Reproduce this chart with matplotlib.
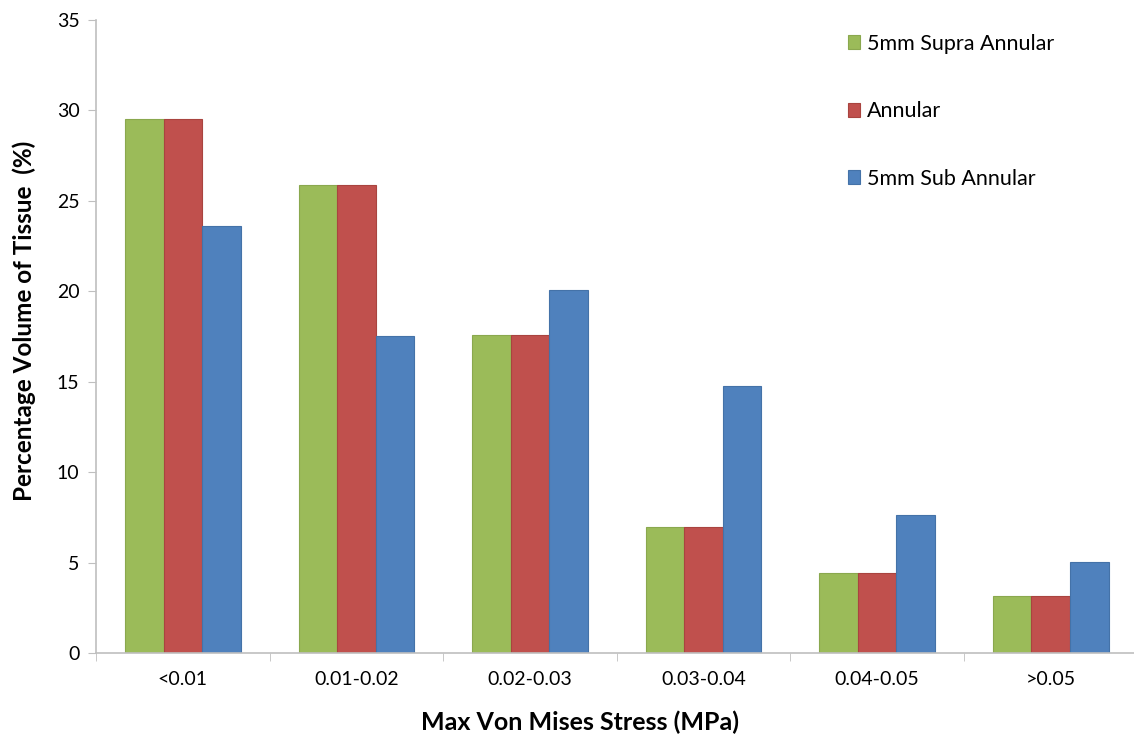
import numpy as np
import matplotlib.pyplot as plt
from matplotlib.ticker import FixedLocator

categories = ["<0.01", "0.01-0.02", "0.02-0.03", "0.03-0.04", "0.04-0.05", ">0.05"]
supra = [29.5, 25.9, 17.6, 6.95, 4.42, 3.15]
annular = [29.5, 25.9, 17.6, 6.95, 4.42, 3.15]
sub = [23.6, 17.5, 20.05, 14.75, 7.65, 5.05]

series_names = ["5mm Supra Annular", "Annular", "5mm Sub Annular"]
colors = ["#9BBB59", "#C0504D", "#4F81BD"]
edges = ["#8AA84E", "#A9443F", "#4472A8"]

plt.rcParams['font.family'] = ['Lato', 'DejaVu Sans']

fig = plt.figure(figsize=(11.34, 7.35), dpi=100)
ax = fig.add_axes([0.0847, 0.1116, 0.923, 0.8612])

x = np.arange(len(categories))
w = 0.222
for i, (vals, name) in enumerate(zip([supra, annular, sub], series_names)):
    ax.bar(x + (i - 1) * w, vals, width=w, color=colors[i], edgecolor=edges[i],
           linewidth=0.8, label=name)

ax.set_xlim(-0.5, 5.53)
ax.set_ylim(0, 35)
ax.set_yticks(range(0, 36, 5))
ax.set_xticks(x)
ax.set_xticklabels(categories, fontsize=14)
ax.xaxis.set_minor_locator(FixedLocator(np.arange(-0.5, 6, 1)))
ax.tick_params(axis='x', which='major', length=0, pad=13)
ax.tick_params(axis='x', which='minor', length=6, color='#BFBFBF', direction='out')
ax.tick_params(axis='y', length=6, color='#BFBFBF', labelsize=14, pad=6)

for s in ['top', 'right']:
    ax.spines[s].set_visible(False)
for s in ['left', 'bottom']:
    ax.spines[s].set_color('#BFBFBF')
    ax.spines[s].set_linewidth(1.2)

ax.set_ylabel("Percentage Volume of Tissue  (%)", fontsize=17.5, fontweight='bold', va='center')
ax.set_xlabel("Max Von Mises Stress (MPa)", fontsize=18, fontweight='bold', va='center')
ax.yaxis.set_label_coords(-0.0688, 0.524)
ax.xaxis.set_label_coords(0.462, -0.109)

leg = ax.legend(loc='upper left', bbox_to_anchor=(0.718, 0.978), frameon=False,
                fontsize=15.5, labelspacing=2.2, handlelength=0.6, handleheight=0.6,
                handletextpad=0.3, borderpad=0, borderaxespad=0)

plt.savefig("out.png", dpi=100)
